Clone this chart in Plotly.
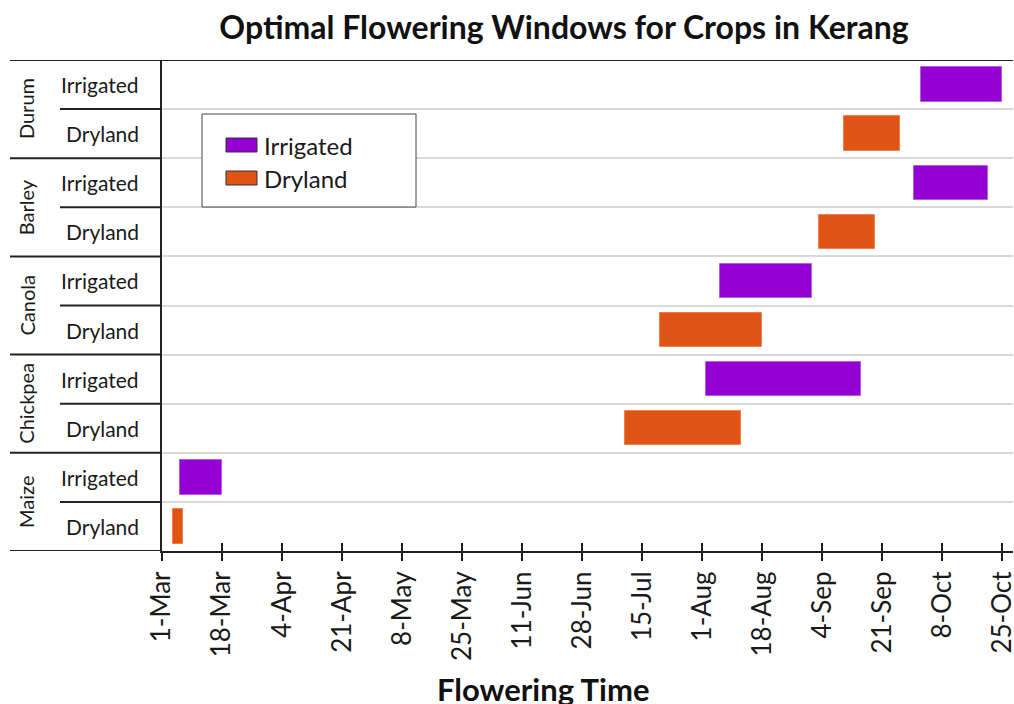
import pandas as pd
import plotly.graph_objects as go

crops = ["Durum", "Barley", "Canola", "Chickpea", "Maize"]
irrigated_start = ["2020-10-02", "2020-09-30", "2020-08-06", "2020-08-02", "2020-03-06"]
irrigated_end = ["2020-10-25", "2020-10-21", "2020-09-01", "2020-09-15", "2020-03-18"]
dryland_start = ["2020-09-10", "2020-09-03", "2020-07-20", "2020-07-10", "2020-03-04"]
dryland_end = ["2020-09-26", "2020-09-19", "2020-08-18", "2020-08-12", "2020-03-07"]
tick_dates = ["2020-03-01", "2020-03-18", "2020-04-04", "2020-04-21", "2020-05-08",
              "2020-05-25", "2020-06-11", "2020-06-28", "2020-07-15", "2020-08-01",
              "2020-08-18", "2020-09-04", "2020-09-21", "2020-10-08", "2020-10-25"]
tick_labels = ["1-Mar", "18-Mar", "4-Apr", "21-Apr", "8-May", "25-May", "11-Jun", "28-Jun",
               "15-Jul", "1-Aug", "18-Aug", "4-Sep", "21-Sep", "8-Oct", "25-Oct"]
sub_labels = ["Irrigated", "Dryland"]

IRR = "#9400D3"
DRY = "#E05416"
FONT = "Lato"
TXT = "#1a1a1a"

n = len(crops)
irr_y = [2 * (n - 1 - i) + 1.5 for i in range(n)]
dry_y = [2 * (n - 1 - i) + 0.5 for i in range(n)]

def dur(s, e):
    return [(pd.Timestamp(b) - pd.Timestamp(a)).total_seconds() * 1000 for a, b in zip(s, e)]

fig = go.Figure()
fig.add_trace(go.Bar(name="Irrigated", orientation="h", y=irr_y, base=irrigated_start,
                     x=dur(irrigated_start, irrigated_end), width=0.7, showlegend=False,
                     marker=dict(color=IRR, line=dict(color="#B060E0", width=1))))
fig.add_trace(go.Bar(name="Dryland", orientation="h", y=dry_y, base=dryland_start,
                     x=dur(dryland_start, dryland_end), width=0.7, showlegend=False,
                     marker=dict(color=DRY, line=dict(color="#F08050", width=1))))
# overlay axis for crossing ticks
fig.add_trace(go.Scatter(x=[tick_dates[0]], y=[0.5], xaxis="x2", mode="markers",
                         marker=dict(opacity=0), showlegend=False, hoverinfo="skip"))

L, R, T, B = 162, 1, 60, 153
W, H = 1014, 704
pw = W - L - R
ph = H - T - B

def px(xpix):
    return (xpix - L) / pw

def py(ypix):
    return (H - B - ypix) / ph

shapes = []
# crop boundary lines (left label table)
for k in range(0, 2 * n + 1, 2):
    shapes.append(dict(type="line", xref="paper", yref="y", x0=px(10), x1=0, y0=k, y1=k,
                       line=dict(color="#222222", width=2)))
for k in range(1, 2 * n, 2):
    shapes.append(dict(type="line", xref="paper", yref="y", x0=px(60), x1=0, y0=k, y1=k,
                       line=dict(color="#222222", width=2)))
# top border
shapes.append(dict(type="line", xref="paper", yref="y", x0=px(10), x1=1, y0=2 * n, y1=2 * n,
                   line=dict(color="#222222", width=2)))

# manual legend
shapes.append(dict(type="rect", xref="paper", yref="paper", x0=px(202), x1=px(416),
                   y0=py(207), y1=py(114), fillcolor="white", line=dict(color="#444444", width=1)))
legend_items = [("Irrigated", IRR, 145), ("Dryland", DRY, 178)]
for name, col, yc in legend_items:
    shapes.append(dict(type="rect", xref="paper", yref="paper", x0=px(226), x1=px(257),
                       y0=py(yc + 7), y1=py(yc - 7), fillcolor=col,
                       line=dict(color="#333333", width=1)))

annotations = []
for name, col, yc in legend_items:
    annotations.append(dict(text=name, xref="paper", yref="paper", x=px(262), y=py(yc),
                            xanchor="left", yanchor="middle", showarrow=False,
                            font=dict(family=FONT, size=24, color=TXT)))
for i, c in enumerate(crops):
    annotations.append(dict(text=c, xref="paper", yref="y", x=px(26), xanchor="center",
                            y=2 * (n - 1 - i) + 1, yanchor="middle",
                            showarrow=False, textangle=-90,
                            font=dict(family=FONT, size=20, color=TXT)))
    for j, s in enumerate(sub_labels):
        annotations.append(dict(text=s, xref="paper", yref="y", x=px(141), xanchor="right",
                                y=2 * (n - 1 - i) + 1.5 - j, showarrow=False,
                                font=dict(family=FONT, size=21, color=TXT)))
annotations.append(dict(text="<b>Flowering Time</b>", xref="paper", yref="paper",
                        x=px(543), xanchor="center", y=py(689), showarrow=False,
                        yanchor="middle", font=dict(family=FONT, size=31, color="#111111")))

fig.update_layout(
    width=W, height=H,
    margin=dict(l=L, r=R, t=T, b=B, autoexpand=False),
    paper_bgcolor="white", plot_bgcolor="white",
    title=dict(text="<b>Optimal Flowering Windows for Crops in Kerang</b>", x=564 / W, xanchor="center",
               y=1 - 28 / H, yanchor="middle", font=dict(family=FONT, size=32, color="#111111")),
    barmode="overlay",
    bargap=0,
    shapes=shapes,
    annotations=annotations,
    showlegend=False,
    xaxis=dict(type="date", range=["2020-03-01", "2020-10-28"], tickvals=tick_dates,
               ticktext=tick_labels, tickangle=-90, ticks="outside", ticklen=8,
               tickwidth=2, tickcolor="#222222", showline=True, linecolor="#222222",
               linewidth=2, showgrid=False, zeroline=False, automargin=False,
               ticklabeloverflow="allow",
               tickfont=dict(family=FONT, size=26, color=TXT)),
    xaxis2=dict(type="date", overlaying="x", matches="x", anchor="y", side="bottom",
                tickvals=tick_dates, ticks="inside", ticklen=8, tickwidth=2,
                tickcolor="#222222", showticklabels=False, showgrid=False,
                showline=False, zeroline=False),
    yaxis=dict(range=[0, 2 * n], tickvals=list(range(1, 2 * n)), showticklabels=False,
               ticks="", showgrid=True, gridcolor="#D9D9D9", gridwidth=1.5,
               showline=True, linecolor="#222222", linewidth=2, zeroline=False),
)

fig.write_html("out.html", config={"displayModeBar": False},
               post_script="document.body.style.margin='0';document.body.style.overflow='hidden';")
